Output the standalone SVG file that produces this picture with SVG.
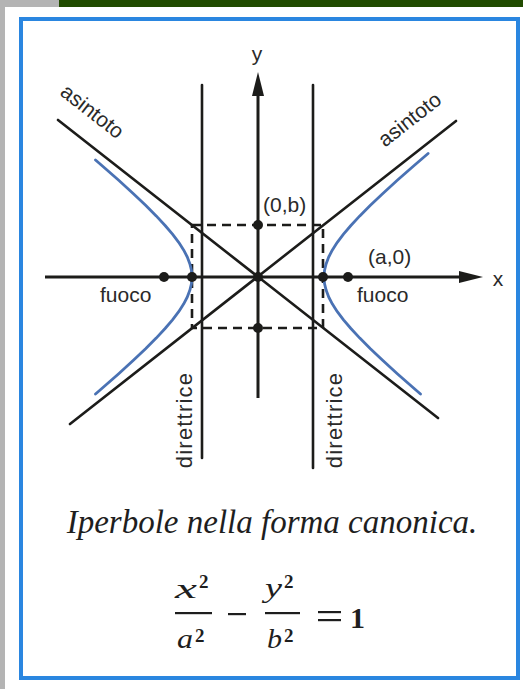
<svg xmlns="http://www.w3.org/2000/svg" width="523" height="689" viewBox="0 0 523 689">
<style>
.ln{stroke:#1c1c1a;stroke-width:2.6;fill:none;stroke-linecap:round}
.ax{stroke:#1c1c1a;stroke-width:3;fill:none}
.dash{stroke:#1c1c1a;stroke-width:2.6;fill:none;stroke-dasharray:9 6}
.hyp{stroke:#4a72b4;stroke-width:2.8;fill:none;stroke-linecap:round;stroke-linejoin:round}
.dot{fill:#1c1c1a}
.lbl{font-family:"Liberation Sans",Arial,sans-serif;font-size:21px;fill:#2a2a2a}
.dir{font-size:22px;letter-spacing:1.2px}
.cap{font-family:"Liberation Serif","Times New Roman",serif;font-style:italic;font-size:33px;fill:#1e1e1e}
.m{font-family:"Liberation Serif","Times New Roman",serif;font-style:italic;font-size:28px;fill:#1e1e1e}
.n{font-family:"Liberation Serif","Times New Roman",serif;font-size:19px;font-weight:bold;fill:#1e1e1e}
.n1{font-family:"Liberation Serif","Times New Roman",serif;font-size:30px;font-weight:bold;fill:#1e1e1e}
</style>
<rect x="0" y="0" width="523" height="689" fill="#ffffff"/>
<rect x="0" y="0" width="59" height="7" fill="#b4b4b4"/>
<rect x="59" y="0" width="464" height="7" fill="#214b00"/>
<rect x="0" y="7" width="5" height="682" fill="#b4b4b4"/>
<rect x="21" y="19" width="497" height="659" fill="#ffffff" stroke="#2a86e0" stroke-width="4"/>

<g id="connectors">
<line class="ln" x1="58" y1="120" x2="438" y2="418"/>
<line class="ln" x1="456" y1="121" x2="70" y2="424"/>
<line class="ln" x1="202" y1="85" x2="202" y2="458"/>
<line class="ln" x1="313" y1="85" x2="313" y2="468"/>
<rect class="dash" x="192" y="225" width="131" height="103"/>
<line class="ax" x1="258" y1="398" x2="258" y2="92"/>
<polygon class="dot" points="258,72 252,96 264,96"/>
<line class="ax" x1="45" y1="277" x2="462" y2="277"/>
<polygon class="dot" points="483,277 459,271 459,283"/>
<path class="hyp" d="M428.1,153.5 L413.3,166.3 L397.3,180.3 L382.6,193.7 L370.4,205.3 L359.8,215.9 L350.9,225.5 L343.5,234.2 L337.3,242.3 L332.4,249.9 L328.7,257.0 L326.1,263.9 L324.5,270.5 L324,277 L324.5,283.5 L326.1,290.1 L328.7,297.0 L332.4,304.1 L337.3,311.7 L343.5,319.8 L350.9,328.5 L359.8,338.1 L370.4,348.7 L382.6,360.3 L397.3,373.7 L413.3,387.7 L420.5,394"/>
<path class="hyp" d="M95.5,160.0 L102.7,166.3 L118.7,180.3 L133.4,193.7 L145.6,205.3 L156.2,215.9 L165.1,225.5 L172.5,234.2 L178.7,242.3 L183.6,249.9 L187.3,257.0 L189.9,263.9 L191.5,270.5 L192,277 L191.5,283.5 L189.9,290.1 L187.3,297.0 L183.6,304.1 L178.7,311.7 L172.5,319.8 L165.1,328.5 L156.2,338.1 L145.6,348.7 L133.4,360.3 L118.7,373.7 L102.7,387.7 L95.5,394"/>
</g>

<g id="center"><circle class="dot" cx="258" cy="277" r="5"/></g>
<g id="vertex-left"><circle class="dot" cx="192" cy="277" r="5"/></g>
<g id="vertex-right"><circle class="dot" cx="323" cy="277" r="5"/><text class="lbl" x="368" y="264">(a,0)</text></g>
<g id="focus-left"><circle class="dot" cx="164" cy="277" r="5"/><text class="lbl" x="100" y="302">fuoco</text></g>
<g id="focus-right"><circle class="dot" cx="348" cy="277" r="5"/><text class="lbl" x="357" y="302">fuoco</text></g>
<g id="point-b"><circle class="dot" cx="258" cy="225" r="5"/><text class="lbl" x="263" y="212">(0,b)</text></g>
<g id="point-minus-b"><circle class="dot" cx="258" cy="328" r="5"/></g>
<g id="axis-labels">
<text class="lbl" x="257" y="61" text-anchor="middle">y</text>
<text class="lbl" x="498" y="286" text-anchor="middle">x</text>
</g>
<g id="asymptote-labels">
<text class="lbl" text-anchor="middle" transform="translate(88,117) rotate(38)">asintoto</text>
<text class="lbl" text-anchor="middle" transform="translate(414,125) rotate(-38)">asintoto</text>
</g>
<g id="directrix-labels">
<text class="lbl dir" text-anchor="middle" transform="translate(192,420) rotate(-90)">direttrice</text>
<text class="lbl dir" text-anchor="middle" transform="translate(342,420) rotate(-90)">direttrice</text>
</g>

<g id="caption">
<text class="cap" x="272" y="533" text-anchor="middle">Iperbole nella forma canonica.</text>
</g>
<g id="formula">
<text class="m" x="175" y="598" textLength="22" lengthAdjust="spacingAndGlyphs">x</text>
<text class="n" x="199" y="588">2</text>
<rect x="175" y="612" width="37" height="2.2" fill="#1e1e1e"/>
<text class="m" x="177" y="648" textLength="16" lengthAdjust="spacingAndGlyphs">a</text>
<text class="n" x="195" y="642">2</text>
<rect x="228" y="613" width="18" height="2.2" fill="#1e1e1e"/>
<text class="m" x="265" y="597" textLength="17" lengthAdjust="spacingAndGlyphs">y</text>
<text class="n" x="284" y="588">2</text>
<rect x="265" y="612" width="35" height="2.2" fill="#1e1e1e"/>
<text class="m" x="267" y="648" textLength="15" lengthAdjust="spacingAndGlyphs">b</text>
<text class="n" x="284" y="642">2</text>
<rect x="318" y="611" width="23" height="2.2" fill="#1e1e1e"/>
<rect x="318" y="619" width="23" height="2.2" fill="#1e1e1e"/>
<text class="n1" x="350" y="628">1</text>
</g>
</svg>
